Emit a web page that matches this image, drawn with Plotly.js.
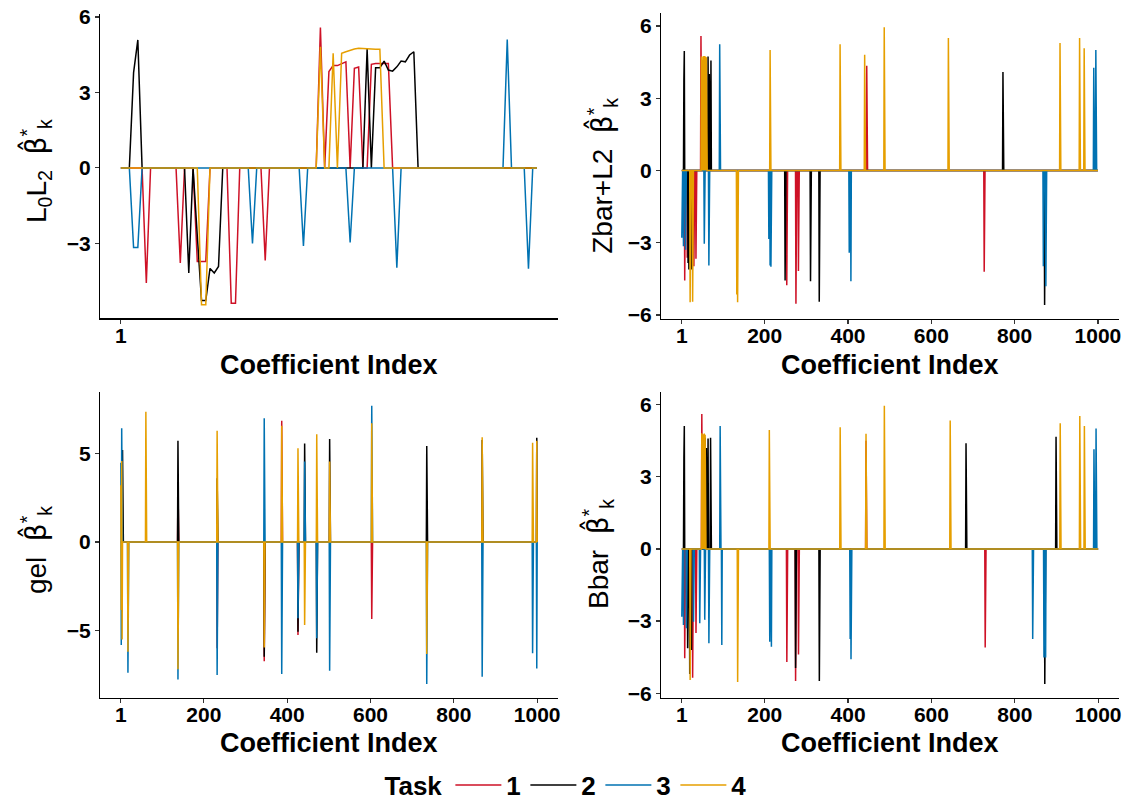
<!DOCTYPE html>
<html>
<head>
<meta charset="utf-8">
<script src="https://cdn.plot.ly/plotly-3.0.1.min.js"></script>
<style>html,body{margin:0;padding:0;background:#fff;}#chart{width:1133px;height:802px;}</style>
</head>
<body>
<div id="chart"></div>
<script>
// ---------------- DATA (index, value) pairs of non-zero coefficients ----------------
const taskNames = ["1", "2", "3", "4"];
const taskColors = ["#CE1126", "#000000", "#0072B2", "#E69F00"];

// Panel 1: L0L2 (first 99 coefficients)
const nL0L2 = 99;
const l0l2Task1 = [[7,-4.58],[15,-3.78],[19,-3.72],[20,-3.72],[21,-3.72],[27,-5.38],[28,-5.38],[35,-3.68],[48,5.58],[50,3.83],[51,4.07],[52,4.07],[53,4.15],[54,4.22],[56,3.96],[57,4.01],[60,4.12],[61,4.15],[62,4.15],[63,4.15],[64,4.15]];
const l0l2Task2 = [[4,3.79],[5,5.09],[17,-4.18],[19,-2.7],[20,-5.28],[21,-5.28],[22,-4.0],[23,-4.18],[24,-3.92],[59,4.73],[61,3.98],[62,3.98],[63,4.25],[64,3.89],[65,3.85],[66,4.02],[67,4.25],[68,4.22],[69,4.49],[70,4.62]];
const l0l2Task3 = [[4,-3.17],[5,-3.17],[32,-3.01],[44,-3.11],[55,-2.97],[66,-3.97],[92,5.11],[97,-4.01]];
const l0l2Task4 = [[20,-5.44],[21,-5.44],[48,4.82],[51,4.56],[53,4.56],[54,4.62],[55,4.68],[56,4.73],[57,4.76],[58,4.76],[59,4.76],[60,4.73],[61,4.72],[62,4.72]];

// Panels 2-4: 1000 coefficients
const nCoef = 1000;
const zbarTask1 = [[8,-4.57],[14,-3.63],[30,-3.98],[35,-3.67],[47,5.58],[52,4.07],[55,4.17],[57,4.0],[253,-4.77],[275,-5.54],[281,-4.18],[445,4.35],[727,-4.21]];
const zbarTask2 = [[6,3.76],[7,4.96],[16,-3.84],[18,-4.11],[25,-4.11],[64,4.73],[67,4.0],[71,4.56],[249,-4.57],[310,-4.6],[331,-5.45],[772,4.09],[872,-5.59]];
const zbarTask3 = [[1,-2.8],[5,-3.15],[10,-3.29],[55,-3.04],[66,-3.95],[92,5.24],[210,-2.85],[213,-3.95],[215,-4.0],[403,-3.42],[407,-4.6],[869,-3.98],[875,-4.81],[990,4.26],[995,5.0]];
const zbarTask4 = [[21,-5.47],[27,-5.45],[48,4.73],[50,4.6],[52,4.73],[54,4.75],[56,4.75],[58,4.72],[60,4.7],[133,-5.15],[135,-5.47],[213,5.0],[381,5.24],[440,4.8],[487,5.94],[641,5.5],[909,5.29],[956,5.5],[967,5.07]];

const gelTask1 = [[138,3.1],[232,-6.0],[345,-6.74],[387,6.85],[426,-5.25],[603,-4.35]];
const gelTask2 = [[5,5.2],[138,5.72],[232,3.6],[345,-6.48],[426,-5.07],[442,5.57],[471,-6.25],[502,5.82],[735,5.42],[868,5.76],[999,5.89]];
const gelTask3 = [[1,4.48],[2,-5.82],[3,6.42],[18,-7.38],[138,-7.76],[232,-7.51],[345,6.99],[387,-7.46],[426,-4.31],[442,4.54],[471,-5.44],[502,-7.27],[603,7.70],[735,-8.02],[868,-7.61],[989,-6.29],[999,-7.14]];
const gelTask4 = [[1,3.2],[2,-3.84],[3,4.58],[4,-5.5],[18,-6.2],[61,7.36],[138,-7.19],[232,6.29],[345,-5.96],[387,6.57],[426,5.29],[442,-4.69],[471,6.08],[502,4.54],[603,6.71],[735,-6.33],[868,5.91],[989,5.61],[999,5.72]];

const bbarTask1 = [[8,-4.55],[27,-5.36],[35,-3.5],[49,5.62],[53,4.2],[253,-4.7],[274,-5.49],[281,-4.39],[443,4.5],[729,-4.1]];
const bbarTask2 = [[6,3.8],[7,5.12],[15,-4.13],[20,-5.2],[24,-4.2],[57,4.63],[60,4.2],[64,4.6],[70,4.63],[274,-4.95],[331,-5.49],[683,4.4],[872,-5.62],[899,4.67]];
const bbarTask3 = [[1,-2.82],[5,-3.16],[12,-3.3],[29,-3.03],[44,-3.09],[56,-2.95],[66,-3.92],[93,5.12],[97,-4.0],[212,-3.86],[216,-4.07],[405,-3.75],[407,-4.59],[843,-3.75],[870,-4.52],[874,-4.52],[990,4.15],[995,5.01]];
const bbarTask4 = [[21,-5.45],[49,4.81],[51,4.7],[53,4.77],[55,4.8],[57,4.75],[135,-5.54],[211,4.95],[381,5.06],[443,4.79],[487,5.96],[645,5.34],[909,5.23],[956,5.53],[967,5.12]];

const panelLabels = ["L<sub>0</sub>L<sub>2</sub>", "Zbar+L2", "gel", "Bbar"];
const xTickVals = [1, 200, 400, 600, 800, 1000];
const yTicksL0L2 = [-3, 0, 3, 6];
const yTicksZbar = [-6, -3, 0, 3, 6];
const yTicksGel = [-5, 0, 5];
const yTicksBbar = [-6, -3, 0, 3, 6];

// ---------------- BUILD ----------------
function expand(n, pairs) {
  const y = new Array(n).fill(0);
  pairs.forEach(p => { y[p[0] - 1] = p[1]; });
  return y;
}
function idx(n) { return Array.from({length: n}, (_, i) => i + 1); }

const panels = [
  {n: nL0L2, tasks: [l0l2Task1, l0l2Task2, l0l2Task3, l0l2Task4], xa: "x", ya: "y"},
  {n: nCoef, tasks: [zbarTask1, zbarTask2, zbarTask3, zbarTask4], xa: "x2", ya: "y2"},
  {n: nCoef, tasks: [gelTask1, gelTask2, gelTask3, gelTask4], xa: "x3", ya: "y3"},
  {n: nCoef, tasks: [bbarTask1, bbarTask2, bbarTask3, bbarTask4], xa: "x4", ya: "y4"}
];

const traces = [];
panels.forEach((p, pi) => {
  const xs = idx(p.n);
  p.tasks.forEach((t, ti) => {
    traces.push({
      type: "scatter", mode: "lines", x: xs, y: expand(p.n, t),
      xaxis: p.xa, yaxis: p.ya,
      line: {color: taskColors[ti], width: 1.5},
      name: taskNames[ti], legendgroup: taskNames[ti], showlegend: pi === 0,
      hoverinfo: "skip"
    });
  });
});

const FONT = "Liberation Sans, Arial, sans-serif";
const tickFont = {family: FONT, size: 21, color: "#000", weight: "bold"};
function fmt(v) { return v < 0 ? "\u2212" + Math.abs(v) : String(v); }
function baseAxis(domain, range, vals) {
  return {domain: domain, range: range, tickvals: vals, ticktext: vals.map(fmt),
    showline: true, linecolor: "#000", linewidth: 1.2, ticks: "outside", ticklen: 4,
    tickwidth: 1.2, tickcolor: "#333", showgrid: false, zeroline: false, tickfont: tickFont, fixedrange: true};
}
function xAxis(domain, range, vals, anchor) {
  const a = baseAxis(domain, range, vals);
  a.anchor = anchor;
  a.ticklabelstandoff = -6;
  return a;
}
function yAxis(domain, range, vals, anchor) {
  const a = baseAxis(domain, range, vals);
  a.anchor = anchor;
  return a;
}
function ext(lo, hi) { const d = (hi - lo) * 0.05; return [lo - d, hi + d]; }

const layout = {
  width: 1133, height: 802,
  margin: {l: 0, r: 0, t: 0, b: 0, autoexpand: false},
  paper_bgcolor: "#fff", plot_bgcolor: "#fff",
  showlegend: true,
  xaxis: xAxis([0.0883, 0.4923], ext(1, nL0L2), [1], "y"),
  yaxis: yAxis([0.6029, 0.9828], [-5.99, 6.13], yTicksL0L2, "x"),
  xaxis2: xAxis([0.5834, 0.9874], ext(1, nCoef), xTickVals, "y2"),
  yaxis2: yAxis([0.6022, 0.9833], [-6.17, 6.52], yTicksZbar, "x2"),
  xaxis3: xAxis([0.0883, 0.4925], ext(1, nCoef), xTickVals, "y3"),
  yaxis3: yAxis([0.1297, 0.5116], [-8.81, 8.49], yTicksGel, "x3"),
  xaxis4: xAxis([0.5834, 0.9876], ext(1, nCoef), xTickVals, "y4"),
  yaxis4: yAxis([0.1297, 0.5115], [-6.2, 6.54], yTicksBbar, "x4"),
  legend: {
    orientation: "h", x: 0.5, xanchor: "center", y: 0.021, yanchor: "middle",
    title: {text: "Task", side: "left", font: {family: FONT, size: 26, color: "#000", weight: "bold"}},
    font: {family: FONT, size: 26, color: "#000", weight: "bold"},
    bgcolor: "rgba(0,0,0,0)", traceorder: "normal", itemwidth: 46,
    entrywidthmode: "pixels", entrywidth: 14
  },
  annotations: []
};

const titleFont = {family: FONT, size: 27, color: "#000", weight: "bold"};
[[0.2903, 0.5448], [0.7855, 0.5448], [0.2903, 0.0736], [0.7855, 0.0736]].forEach(p => {
  layout.annotations.push({text: "Coefficient Index", xref: "paper", yref: "paper", x: p[0], y: p[1],
    xanchor: "center", yanchor: "middle", showarrow: false, font: titleFont});
});
const ylabPos = [[0.0318, 0.7868], [0.532, 0.7805], [0.0318, 0.3141], [0.5278, 0.3092]];
panelLabels.forEach((lab, i) => {
  layout.annotations.push({text: lab + "  <span style=\"font-family:DejaVu Sans\">\u03B2\u0302</span><sup>*</sup><sub>k</sub>",
    xref: "paper", yref: "paper",
    x: ylabPos[i][0], y: ylabPos[i][1], xanchor: "center", yanchor: "middle", textangle: -90,
    showarrow: false, font: {family: FONT, size: 28, color: "#000"}});
});

Plotly.newPlot("chart", traces, layout, {staticPlot: true, displayModeBar: false});
</script>
</body>
</html>
